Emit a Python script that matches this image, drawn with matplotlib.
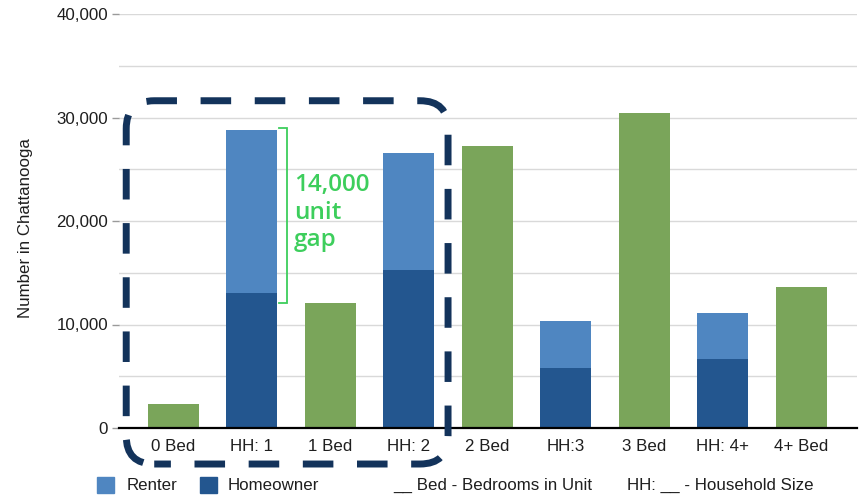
import matplotlib
matplotlib.use("Agg")
import matplotlib.pyplot as plt
from matplotlib.patches import FancyBboxPatch, Rectangle
from matplotlib.transforms import IdentityTransform
import numpy as np

# Bedroom supply vs. household size in Chattanooga
categories = ["0 Bed", "HH: 1", "1 Bed", "HH: 2", "2 Bed", "HH:3", "3 Bed", "HH: 4+", "4+ Bed"]
units = [2300, None, 12100, None, 27200, None, 30400, None, 13600]          # housing units by bedroom count
homeowners = [None, 13000, None, 15300, None, 5800, None, 6700, None]     # households that own
renters = [None, 15800, None, 11300, None, 4500, None, 4400, None]        # households that rent

gap_low = 12100      # 1-bedroom units
gap_high = 29000     # one-person households (top of bracket)
gap_label = "14,000\nunit\ngap"

GREEN = "#7AA55A"
RENTER = "#4F86C1"
OWNER = "#23568F"
NAVY = "#13335B"
GAP_GREEN = "#3DCE5C"
TXT = "#1E1E1E"

plt.rcParams["font.family"] = ["Liberation Sans", "DejaVu Sans"]

W, H = 868, 495
fig = plt.figure(figsize=(W / 100, H / 100), dpi=100)
ax = fig.add_axes([119 / W, (H - 428) / H, (857 - 119) / W, (428 - 14) / H])

x = np.arange(len(categories))
bw = 0.645
for i in x:
    if units[i] is not None:
        ax.bar(i, units[i], width=bw, color=GREEN, zorder=3)
    else:
        ax.bar(i, homeowners[i], width=bw, color=OWNER, zorder=3)
        ax.bar(i, renters[i], width=bw, bottom=homeowners[i], color=RENTER, zorder=3)

ax.set_xlim(-0.692, 8.71)
ax.set_ylim(0, 40000)
ax.set_yticks(np.arange(0, 40001, 10000))
ax.set_yticks(np.arange(5000, 40000, 10000), minor=True)
ax.set_yticklabels([f"{v:,}" for v in range(0, 40001, 10000)])
ax.grid(axis="y", which="both", color="#D9D9D9", linewidth=1.0, zorder=0)
ax.tick_params(axis="y", which="major", length=5, width=1, color="#9A9A9A",
               labelsize=12.2, labelcolor=TXT, pad=3)
ax.tick_params(axis="y", which="minor", length=0)
ax.set_xticks(x)
ax.set_xticklabels(categories)
ax.tick_params(axis="x", length=0, labelsize=12.2, labelcolor=TXT, pad=8)

for s in ["top", "right", "left"]:
    ax.spines[s].set_visible(False)
ax.spines["bottom"].set_color("black")
ax.spines["bottom"].set_linewidth(1.6)
ax.spines["bottom"].set_zorder(4)

ax.set_ylabel("Number in Chattanooga", fontsize=12.2, color=TXT)
ax.yaxis.set_label_coords(-0.117, 0.483)

# Bracket marking the gap between one-person households and 1-bedroom units
bx = 1.45
tick = 0.1
ax.plot([bx - tick, bx, bx, bx - tick], [gap_high, gap_high, gap_low, gap_low],
        color=GAP_GREEN, linewidth=1.3, zorder=5, solid_joinstyle="miter")
ax.text(bx + 0.085, 20800, gap_label, color=GAP_GREEN,
        fontsize=17.5, fontweight=600, family=["Open Sans", "DejaVu Sans"],
        va="center", ha="left", linespacing=1.2, zorder=5)

# Dashed rounded outline around the 0-2 bedroom / 1-2 person group
fig.canvas.draw()
(x0, y0) = ax.transData.transform((-0.60, -3480))
(x1, y1) = ax.transData.transform((3.50, 31620))
box = FancyBboxPatch((x0, y0), x1 - x0, y1 - y0,
                     boxstyle="round,pad=0,rounding_size=28",
                     transform=IdentityTransform(), fill=False,
                     edgecolor=NAVY, linewidth=5, linestyle=(2, (4.4, 3.4)),
                     capstyle="butt", zorder=10)
fig.add_artist(box)

# Legend row
def key(xpx, color):
    fig.add_artist(Rectangle((xpx / W, (H - 493) / H), 17 / W, 16 / H,
                             transform=fig.transFigure, color=color))

ly = (H - 485) / H
key(97, RENTER)
fig.text(127 / W, ly, "Renter", fontsize=12.2, color=TXT, va="center")
key(200, OWNER)
fig.text(228 / W, ly, "Homeowner", fontsize=12.2, color=TXT, va="center")
fig.text(393 / W, ly, "__ Bed - Bedrooms in Unit", fontsize=12.2, color=TXT, va="center")
fig.text(627 / W, ly, "HH: __ - Household Size", fontsize=12.2, color=TXT, va="center")

fig.savefig("out.png", dpi=100)
